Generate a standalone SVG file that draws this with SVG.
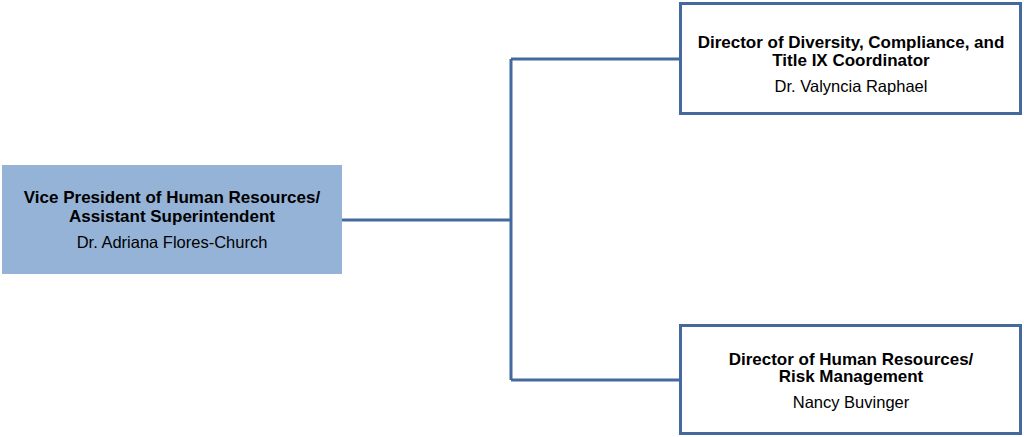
<svg xmlns="http://www.w3.org/2000/svg" width="1024" height="437" viewBox="0 0 1024 437">
<style>
.t{font-family:"Liberation Sans",Arial,sans-serif;font-size:16.5px;fill:#000;text-anchor:middle}
.b{font-weight:bold;font-size:17px}
.box{fill:#fff;stroke:#44699c;stroke-width:3}
.conn{fill:none;stroke:#44699c;stroke-width:3}
</style>
<rect width="1024" height="437" fill="#fff"/>
<g id="connectors">
<path class="conn" d="M342 220H511M511 59V380M511 59H680M511 380H680"/>
</g>
<g id="vp">
<rect x="2" y="165" width="340" height="109" fill="#95b3d7"/>
<text class="t b" x="172" y="203">Vice President of Human Resources/</text>
<text class="t b" x="172" y="222">Assistant Superintendent</text>
<text class="t" x="172" y="248">Dr. Adriana Flores-Church</text>
</g>
<g id="diversity">
<rect class="box" x="680.5" y="3.5" width="340" height="110"/>
<text class="t b" x="851" y="48">Director of Diversity, Compliance, and</text>
<text class="t b" x="851" y="66">Title IX Coordinator</text>
<text class="t" x="851" y="92">Dr. Valyncia Raphael</text>
</g>
<g id="hr">
<rect class="box" x="680.5" y="325.5" width="340" height="108"/>
<text class="t b" x="851" y="365">Director of Human Resources/</text>
<text class="t b" x="851" y="382">Risk Management</text>
<text class="t" x="851" y="408">Nancy Buvinger</text>
</g>
</svg>
